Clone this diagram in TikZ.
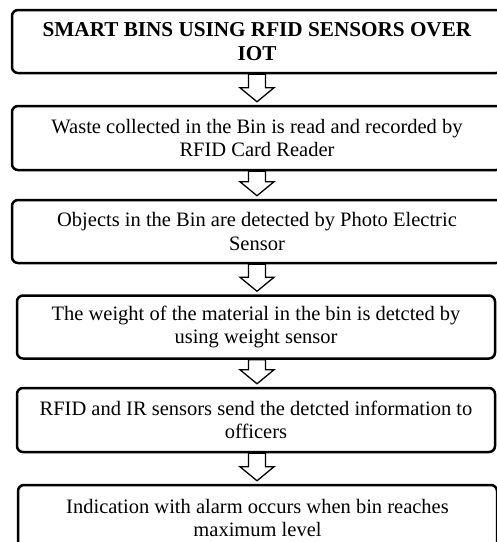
\documentclass[tikz,border=0pt]{standalone}
\usepackage{fontspec}
\setmainfont{Liberation Serif}
\usetikzlibrary{calc}

\tikzset{
  stage/.style={draw=black, line width=2.5pt, rounded corners=6pt,
    fill=white, align=center, inner sep=0pt,
    font=\fontsize{20.5}{23.5}\selectfont},
  titlefont/.style={font=\fontsize{21.2}{23.5}\selectfont\bfseries},
  hollowarrow/.style={draw=black, fill=white, line width=1.3pt,
    line join=miter,
    to path={let \p1=(\tikztostart), \p2=(\tikztotarget) in
      (\x1-8.5pt,\y1) -- (\x1-8.5pt,\y2+17pt) -- (\x1-17pt,\y2+17pt)
      -- (\x1,\y2+3pt) -- (\x1+17pt,\y2+17pt) -- (\x1+8.5pt,\y2+17pt)
      -- (\x1+8.5pt,\y1) -- cycle}}
}

\begin{document}
\begin{tikzpicture}[x=1pt, y=-1pt]
\useasboundingbox (0,0) rectangle (497,542);
\clip (0,0) rectangle (497,542);

% process stages, top to bottom
\node[stage, titlefont, minimum width=490pt, minimum height=63pt] (s1) at (257,41.5)
  {SMART BINS USING RFID SENSORS OVER\\IOT};
\node[stage, minimum width=490pt, minimum height=64pt] (s2) at (257,138)
  {Waste collected in the Bin is read and recorded by\\RFID Card Reader};
\node[stage, minimum width=490pt, minimum height=63pt] (s3) at (257,231.5)
  {Objects in the Bin are detected by Photo Electric\\Sensor};
\node[stage, minimum width=478pt, minimum height=63pt] (s4) at (256,327)
  {The weight of the material in the bin is detcted by\\using weight sensor};
\node[stage, minimum width=478pt, minimum height=64pt] (s5) at (256,420)
  {RFID and IR sensors send the detcted information to\\officers};
\node[stage, minimum width=479pt, minimum height=66pt] (s6) at (257.5,518)
  {Indication with alarm occurs when bin reaches\\maximum level};

% hollow block arrows between consecutive stages
\draw[hollowarrow] (s1.south) to (s2.north);
\draw[hollowarrow] (s2.south) to (s3.north);
\draw[hollowarrow] (s3.south -| s1.south) to (s4.north -| s1.south);
\draw[hollowarrow] (s4.south -| s1.south) to (s5.north -| s1.south);
\draw[hollowarrow] (s5.south -| s1.south) to (s6.north -| s1.south);
\end{tikzpicture}
\end{document}
